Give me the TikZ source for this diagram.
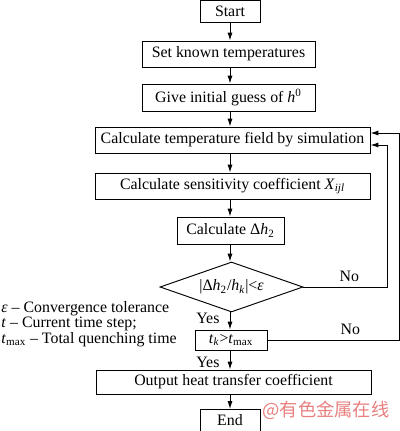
\documentclass[tikz,border=0pt]{standalone}
\usepackage{fontspec}
\setmainfont{Liberation Serif}
\newfontfamily\cjkfont{Noto Sans CJK SC}
\usetikzlibrary{calc, positioning}
\usetikzlibrary{arrows.meta}
\usetikzlibrary{shapes.geometric}
\definecolor{markred}{RGB}{232,128,128}

\begin{document}
\begin{tikzpicture}[x=0.63pt,y=-0.63pt,
  line width=0.6pt,
  font=\fontsize{10}{11}\selectfont,
  arr/.style={-{Latex[length=5pt,width=3.2pt]}},
  box/.style 2 args={draw, inner sep=0pt, minimum width=#1*0.63pt, minimum height=#2*0.63pt},
  decision/.style={draw, diamond, inner sep=0pt, aspect=2.86, minimum width=143*0.63pt, minimum height=50*0.63pt}]
\useasboundingbox (0,0) rectangle (400,431);

\node[box={60}{22}]  (start) at (230,11)    {Start};
\node[box={173}{26}] (set)   at (228.5,54)  {Set known temperatures};
\node[box={173}{27}] (give)  at (228.5,97.5) {Give initial guess of \textit{h}\textsuperscript{0}};
\node[box={275}{26}] (temp)  at (232.5,140) {Calculate temperature field by simulation};
\node[box={275}{26}] (sens)  at (232.5,186) {Calculate sensitivity coefficient \textit{X}\textsubscript{\textit{ijl}}};
\node[box={107}{27}] (dh)    at (230.5,230.5) {Calculate Δ\textit{h}\textsubscript{2}};
\node[decision]      (dia)   at (231.5,287) {|Δ\textit{h}\textsubscript{2}/\textit{h}\textsubscript{\textit{k}}|<\textit{ε}};
\node[box={72}{20}]  (tk)    at (231,340)   {\textit{t}\textsubscript{\textit{k}}>\textit{t}\textsubscript{max}};
\node[box={275}{24}] (out)   at (233.5,382) {Output heat transfer coefficient};
\node[box={60}{22}]  (end)   at (230,420.5) {End};

\node[anchor=west, align=left, inner sep=0pt, font=\fontsize{10}{9.6}\selectfont] (legend) at (1,324)
  {\textit{ε} – Convergence tolerance\\
   \textit{t} – Current time step;\\
   \textit{t}\textsubscript{max} – Total quenching time};

\node[text=markred, font=\cjkfont\fontsize{11.5}{12}\selectfont] (mark) at (326,410) {@有色金属在线};

% main axis and return lines
\coordinate (ax) at (230,0);
\coordinate (r1) at (387,0);
\coordinate (r2) at (399,0);
\coordinate (in1) at ($(temp.east)+(0,5)$);
\coordinate (in2) at ($(temp.east)+(0,-7)$);

\draw[arr] (start.south -| ax) -- (set.north -| ax);
\draw[arr] (set.south -| ax) -- (give.north -| ax);
\draw[arr] (give.south -| ax) -- (temp.north -| ax);
\draw[arr] (temp.south -| ax) -- (sens.north -| ax);
\draw[arr] (sens.south -| ax) -- (dh.north -| ax);
\draw[arr] (dh.south -| ax) -- (dia.north -| ax);
\draw[arr] (dia.south -| ax) -- (tk.north -| ax) node[pos=0.35, left=3pt] {Yes};
\draw[arr] (tk.south -| ax) -- (out.north -| ax) node[pos=0.6, left=3pt] {Yes};
\draw[arr] (out.south -| ax) -- (end.north -| ax);

\draw[arr] (dia.east) -- (dia.east -| r1) node[pos=0.55, above] {No}
  -- (r1 |- in1) -- (in1);
\draw[arr] (tk.east) -- (tk.east -| r2) node[pos=0.63, above] {No}
  -- (r2 |- in2) -- (in2);
\end{tikzpicture}
\end{document}
